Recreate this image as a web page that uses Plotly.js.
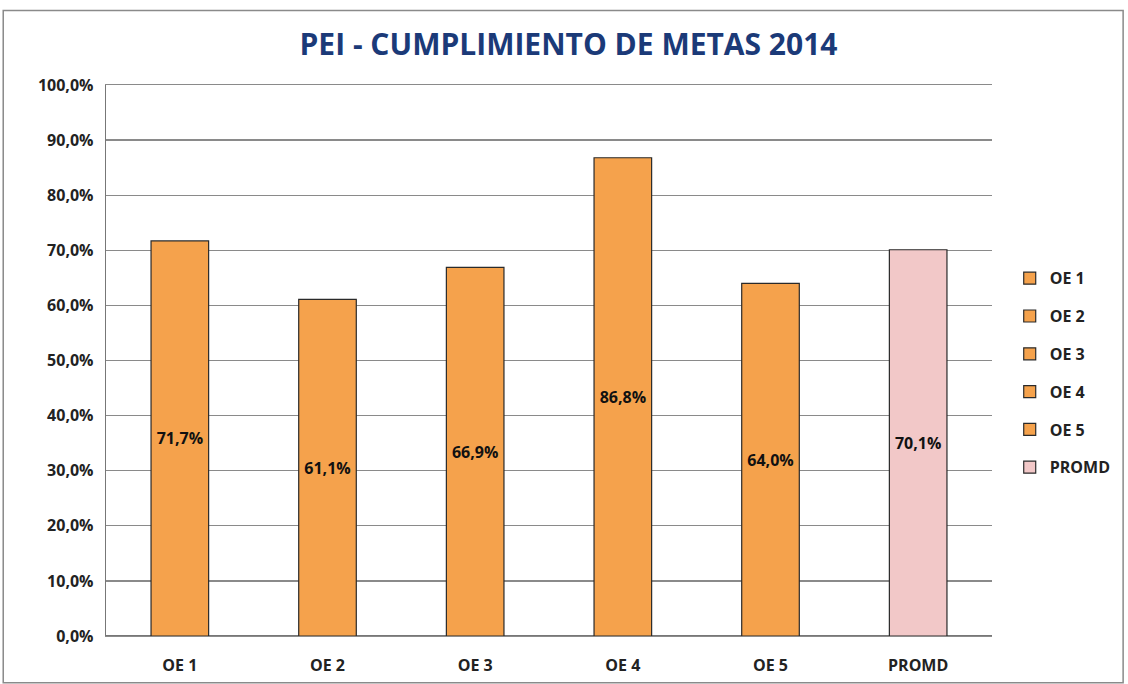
<!DOCTYPE html>
<html>
<head>
<meta charset="utf-8">
<script src="https://cdn.plot.ly/plotly-3.0.1.min.js"></script>
<style>html,body{margin:0;padding:0;background:#fff;}#chart{width:1128px;height:684px;}</style>
</head>
<body>
<div id="chart"></div>
<script>
const categories = ["OE 1", "OE 2", "OE 3", "OE 4", "OE 5", "PROMD"];
const values = [71.7, 61.1, 66.9, 86.8, 64.0, 70.1];
const labels = ["71,7%", "61,1%", "66,9%", "86,8%", "64,0%", "70,1%"];
const colors = ["#F5A24C", "#F5A24C", "#F5A24C", "#F5A24C", "#F5A24C", "#F2C8C8"];
const yTicks = [0, 10, 20, 30, 40, 50, 60, 70, 80, 90, 100];

const font = "'Open Sans', Arial, sans-serif";

const traces = categories.map((c, i) => ({
  type: "bar",
  name: c,
  legendgroup: "g" + i,
  x: [c],
  y: [values[i]],
  text: [labels[i]],
  textposition: "inside",
  insidetextanchor: "middle",
  textangle: 0,
  textfont: {family: font, size: 16, color: "#111", weight: "bold"},
  marker: {color: colors[i], line: {color: "#2a2a2a", width: 1.2}},
  width: 0.39,
  hoverinfo: "skip"
}));

const layout = {
  width: 1128,
  height: 684,
  margin: {l: 106, r: 133, t: 85, b: 48},
  paper_bgcolor: "#fff",
  plot_bgcolor: "#fff",
  separators: ",.",
  barmode: "relative",
  title: {
    text: "<b>PEI - CUMPLIMIENTO DE METAS 2014</b>",
    font: {family: font, size: 30, color: "#1B3A78"},
    x: 0.504, xanchor: "center", xref: "container",
    y: 0.935, yanchor: "middle"
  },
  xaxis: {
    categoryorder: "array",
    categoryarray: categories,
    tickfont: {family: font, size: 16, color: "#222", weight: "bold"},
    showgrid: false,
    showline: true,
    mirror: true,
    linecolor: "#8a8a8a",
    linewidth: 1.3,
    ticks: "",
    ticklabelstandoff: 14,
    fixedrange: true
  },
  yaxis: {
    range: [0, 100],
    tickvals: yTicks,
    ticktext: yTicks.map(v => v.toFixed(1).replace(".", ",") + "%"),
    tickfont: {family: font, size: 16, color: "#222", weight: "bold"},
    showgrid: true,
    gridcolor: "#8a8a8a",
    gridwidth: 1.3,
    showline: true,
    linecolor: "#777",
    linewidth: 1.3,
    zeroline: true,
    zerolinecolor: "#777",
    zerolinewidth: 1.3,
    ticks: "",
    ticklabelstandoff: 8,
    fixedrange: true
  },
  legend: {
    x: 1.02, xanchor: "left",
    y: 0.68, yanchor: "top",
    font: {family: font, size: 16, color: "#222", weight: "bold"},
    tracegroupgap: 14,
    itemwidth: 30,
    bgcolor: "rgba(0,0,0,0)"
  },
  shapes: [{
    type: "rect", xref: "paper", yref: "paper",
    x0: -0.116, x1: 1.148, y0: -0.085, y1: 1.135,
    line: {color: "#8a8a8a", width: 1.5}, fillcolor: "rgba(0,0,0,0)"
  }],
  showlegend: true
};

Plotly.newPlot("chart", traces, layout, {displayModeBar: false, staticPlot: true});
</script>
</body>
</html>
